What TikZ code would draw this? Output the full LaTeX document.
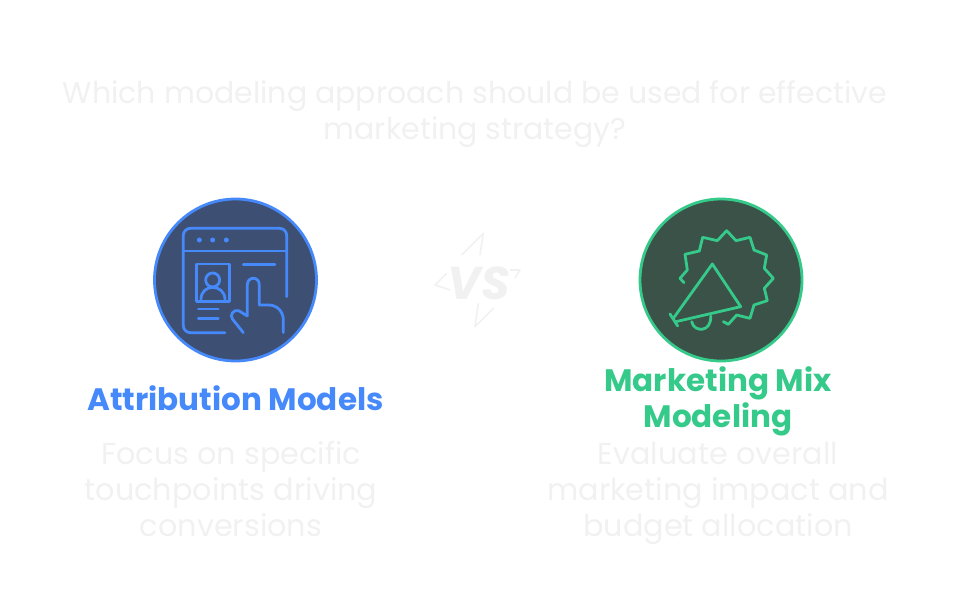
\documentclass[tikz,border=0pt]{standalone}
\usepackage{fontspec}
\setmainfont{Poppins}
\usepackage{tikz}
\usetikzlibrary{positioning}

\definecolor{faintgray}{HTML}{F1F1F1}
\definecolor{bluemain}{HTML}{4689FB}
\definecolor{bluedark}{HTML}{3D4F73}
\definecolor{greenmain}{HTML}{35C98A}
\definecolor{greendark}{HTML}{3B5249}

\begin{document}
\begin{tikzpicture}[
    x=1pt, y=-1pt,
    % Styles
    title/.style={% For the question on top
        text=faintgray,
        align=center,
        font=\fontsize{30}{36}\selectfont,
        },
    heading/.style={% For the names below the circles
        align=center,
        font=\fontsize{31}{36}\selectfont\bfseries,
        },
    desc/.style={% For the grey text below the names
        text=faintgray,
        align=center,
        font=\fontsize{30.3}{36}\selectfont,
        },
    badge/.style={% For the big circles
        circle,
        draw,
        line width=2.8pt,
        minimum size=162pt,
        inner sep=0pt,
        },
    iconline/.style={% Thin strokes of the icons
        line width=2.8pt,
        line cap=round,
        line join=round,
        },
    zoomed/.style={% Icon coordinates are read on a 3x grid
        x=0.3333pt, y=-0.3333pt,
        },
    ]

    \useasboundingbox (0,0) rectangle (957,615);

    % Draw the question
    \node [title] (question) at (475,114) {Which modeling approach should be used for effective\\marketing strategy?};

    % Draw circles
    \node [badge, draw=bluemain, fill=bluedark] (left) at (235.5,280) {};
    \node [badge, draw=greenmain, fill=greendark] (right) at (721,280) {};

    % Draw names
    \node [heading, text=bluemain] (attr) at (235.5,398) {Attribution Models};
    \node [heading, text=greenmain] (mmm) at (718,401) {Marketing Mix\\Modeling};

    % Draw descriptions
    \node [desc] (attrtext) at (231,489) {Focus on specific\\touchpoints driving\\conversions};
    \node [desc] (mmmtext) at (718,493) {Evaluate overall\\marketing impact and\\budget allocation};

    % Left icon: window, card and hand
    \begin{scope}[shift={(140,190)}, zoomed, iconline, draw=bluemain]
        \draw [rounded corners=7pt] (440,320) -- (440,115) -- (130,115) -- (130,428) -- (255,428);
        \draw (130,183) -- (440,183);
        \foreach \dotx in {178,218,259}
            \fill [bluemain] (\dotx,150) circle (2.5pt);
        \draw (170,222) rectangle (268,335);
        \draw (218,270) circle (7pt);
        \draw (183,328) .. controls (183,305) and (200,292) .. (218,292) .. controls (236,292) and (255,305) .. (255,328);
        \draw (310,223) -- (405,223);
        \draw (175,357) -- (235,357);
        \draw (175,385) -- (235,385);
        % The hand
        \draw (310,428) -- (278,388) .. controls (268,375) and (280,358) .. (296,362) -- (322,378) -- (322,285)
            .. controls (322,258) and (358,258) .. (358,285) -- (358,345) -- (385,345)
            .. controls (412,345) and (430,365) .. (430,390) -- (430,428);
    \end{scope}

    % Right icon: burst and megaphone
    \begin{scope}[shift={(630,190)}, zoomed, iconline, draw=greenmain]
        \draw (162,278) -- (150,265) -- (172,240) -- (165,193) -- (208,183) -- (218,142) -- (262,152) -- (290,122)
            -- (318,152) -- (360,142) -- (372,180) -- (410,195) -- (403,235) -- (430,265) -- (403,295) -- (412,332)
            -- (372,345) -- (360,385) -- (320,375) -- (295,403) -- (280,395);
        \draw (130,385) -- (247,222) -- (332,350) -- (138,395);
        \draw (120,372) -- (143,408);
        \draw (185,395) .. controls (192,428) and (245,428) .. (242,378);
    \end{scope}

    % Draw the faint mark in the middle
    \begin{scope}[shift={(420,220)}, zoomed, line width=1.6pt, draw=faintgray, line join=round]
        \draw (125,105) -- (190,40) -- (180,105);
        \draw (80,160) -- (45,195) -- (90,210);
        \draw (175,250) -- (165,320) -- (220,265);
        \draw (270,150) -- (300,150) -- (285,175);
    \end{scope}
    \node [text=faintgray, font=\fontsize{46}{46}\selectfont\bfseries\itshape] (vs) at (479,283) {VS};

\end{tikzpicture}
\end{document}
